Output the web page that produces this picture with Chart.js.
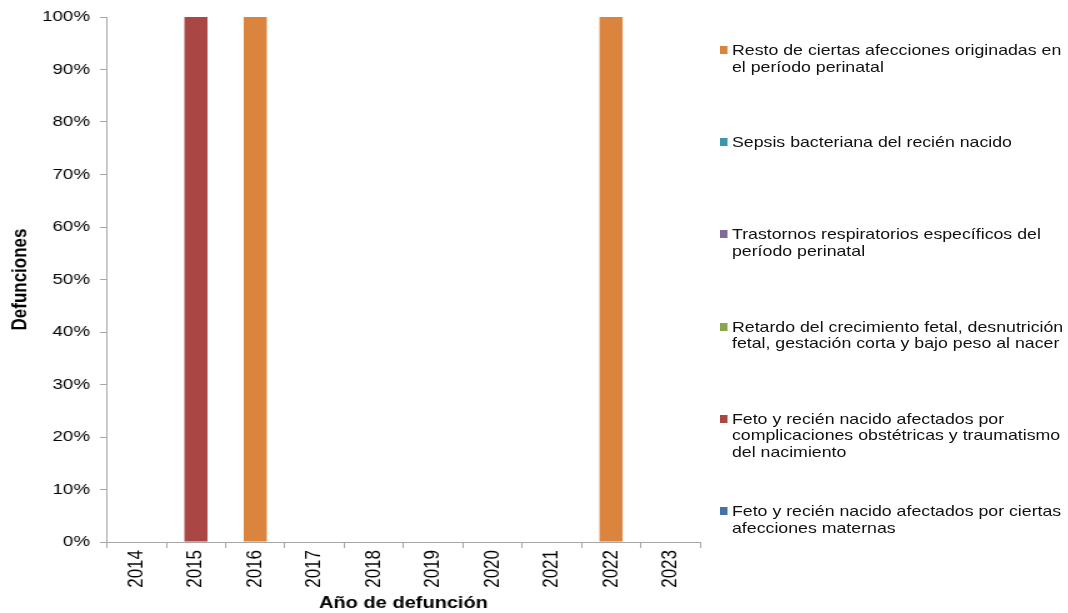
<!DOCTYPE html>
<html>
<head>
<meta charset="utf-8">
<script src="https://cdn.jsdelivr.net/npm/chart.js@4/dist/chart.umd.min.js"></script>
<style>
  html, body { margin: 0; padding: 0; background: #fff; }
  body { width: 1068px; height: 613px; overflow: hidden; }
  /* el dibujo original esta estirado en horizontal */
  #wrap { position: absolute; left: 0; top: 0; width: 854.4px; height: 613px; transform: scaleX(1.25); transform-origin: 0 0; }
  #c { position: absolute; left: 0; top: 0; }
  #legend { position: absolute; left: 0; top: 0; font-family: "Liberation Sans", Arial, sans-serif; font-size: 14.2px; color: #111; line-height: 16.5px; }
  .item { position: absolute; left: 576px; white-space: nowrap; }
  .box { position: absolute; left: 0; top: 4px; width: 6.4px; height: 8px; }
  .txt { position: absolute; left: 9.6px; top: 0; }
</style>
</head>
<body>
<div id="wrap">
  <canvas id="c" width="562" height="613"></canvas>
  <div id="legend"></div>
</div>
<script>
// Años de defunción (eje X)
const years = ["2014", "2015", "2016", "2017", "2018", "2019", "2020", "2021", "2022", "2023"];

// Causas (orden de apilado, de abajo hacia arriba)
const causes = [
  ["Feto y recién nacido afectados por ciertas", "afecciones maternas"],
  ["Feto y recién nacido afectados por", "complicaciones obstétricas y traumatismo", "del nacimiento"],
  ["Retardo del crecimiento fetal, desnutrición", "fetal, gestación corta y bajo peso al nacer"],
  ["Trastornos respiratorios específicos del", "período perinatal"],
  ["Sepsis bacteriana del recién nacido"],
  ["Resto de ciertas afecciones originadas en", "el período perinatal"]
];
const colors = ["#4572A7", "#AA4643", "#89A54E", "#80699B", "#3D96AE", "#DB843D"];

// Porcentaje de defunciones por año
const maternas       = [0, 0,   0, 0, 0, 0, 0, 0, 0,   0];
const complicaciones = [0, 100, 0, 0, 0, 0, 0, 0, 0,   0];
const retardo        = [0, 0,   0, 0, 0, 0, 0, 0, 0,   0];
const respiratorios  = [0, 0,   0, 0, 0, 0, 0, 0, 0,   0];
const sepsis         = [0, 0,   0, 0, 0, 0, 0, 0, 0,   0];
const resto          = [0, 0, 100, 0, 0, 0, 0, 0, 100, 0];
const series = [maternas, complicaciones, retardo, respiratorios, sepsis, resto];

const yTicks = [0, 10, 20, 30, 40, 50, 60, 70, 80, 90, 100];

const FONT = "'Liberation Sans', Arial, sans-serif";
const AXIS = "#a6a6a6";

const chart = new Chart(document.getElementById("c").getContext("2d"), {
  type: "bar",
  data: {
    labels: years,
    datasets: series.map((d, i) => ({
      label: causes[i].join(" "),
      data: d,
      backgroundColor: colors[i],
      borderWidth: 0,
      barPercentage: 0.39,
      categoryPercentage: 1
    }))
  },
  options: {
    responsive: false,
    devicePixelRatio: 1,
    animation: false,
    layout: { padding: { top: 16, right: 2, left: 0, bottom: 0 } },
    plugins: { legend: { display: false }, tooltip: { enabled: false } },
    scales: {
      x: {
        stacked: true,
        afterFit: (s) => { s.height = 71; },
        grid: { offset: true, drawOnChartArea: false, tickLength: 6, color: AXIS },
        border: { color: AXIS },
        ticks: { maxRotation: 90, minRotation: 90, padding: 2, color: "#000", font: { family: FONT, size: 17 } },
        title: { display: true, text: "Año de defunción", color: "#000", padding: { top: 0, bottom: 0 }, font: { family: FONT, size: 16, weight: "bold" } }
      },
      y: {
        stacked: true,
        min: 0,
        max: 100,
        afterFit: (s) => { s.width = 85.6; },
        afterBuildTicks: (s) => { s.ticks = yTicks.map(v => ({ value: v })); },
        grid: { drawOnChartArea: false, tickLength: 5.6, color: AXIS },
        border: { color: AXIS },
        ticks: { padding: 8, color: "#000", font: { family: FONT, size: 15 }, callback: (v) => v + "%" },
        title: { display: true, text: "Defunciones", color: "#000", padding: { top: 6, bottom: 0 }, font: { family: FONT, size: 17, weight: "bold" } }
      }
    }
  }
});

// Leyenda a la derecha, en orden inverso
const legend = document.getElementById("legend");
chart.data.datasets.slice().reverse().forEach((ds, k) => {
  const i = causes.length - 1 - k;
  const item = document.createElement("div");
  item.className = "item";
  item.style.top = (42 + k * 92.2) + "px";
  const box = document.createElement("span");
  box.className = "box";
  box.style.background = ds.backgroundColor;
  const txt = document.createElement("span");
  txt.className = "txt";
  txt.innerHTML = causes[i].join("<br>");
  item.appendChild(box);
  item.appendChild(txt);
  legend.appendChild(item);
});
</script>
</body>
</html>
